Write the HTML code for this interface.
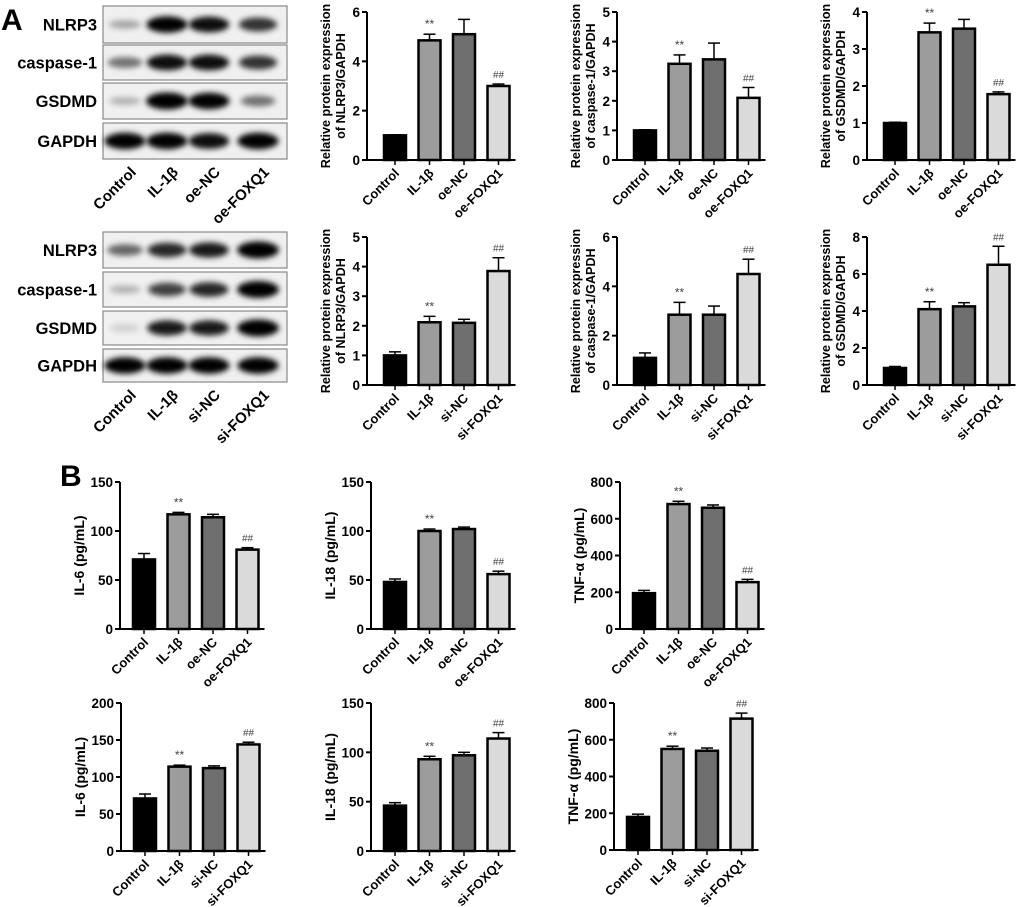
<!DOCTYPE html>
<html><head><meta charset="utf-8">
<style>
body{margin:0;background:#fff;}
svg{display:block;font-family:"Liberation Sans",Arial,sans-serif;}
.b{font-weight:bold;}
</style></head>
<body>
<svg id="fig" width="1020" height="907" viewBox="0 0 1020 907" xmlns="http://www.w3.org/2000/svg">
<defs><filter id="blur" x="-30%" y="-60%" width="160%" height="220%"><feGaussianBlur stdDeviation="3"/></filter></defs>
<text x="1" y="30" class="b" font-size="30">A</text>
<text x="60" y="486" class="b" font-size="30">B</text>
<g id="blots"></g>
<g id="charts"></g>
</svg>
<script>
// ---- chart data ----
const groupsOe = ["Control","IL-1β","oe-NC","oe-FOXQ1"];
const groupsSi = ["Control","IL-1β","si-NC","si-FOXQ1"];
const nlrp3OeVals = [1.0,4.85,5.1,3.0];   const nlrp3OeErr = [0.02,0.25,0.6,0.08];
const casp1OeVals = [1.0,3.25,3.4,2.1];   const casp1OeErr = [0.02,0.3,0.55,0.35];
const gsdmdOeVals = [1.0,3.45,3.55,1.78]; const gsdmdOeErr = [0.02,0.25,0.25,0.06];
const nlrp3SiVals = [1.0,2.12,2.1,3.85];  const nlrp3SiErr = [0.12,0.2,0.12,0.45];
const casp1SiVals = [1.1,2.85,2.85,4.5];  const casp1SiErr = [0.2,0.5,0.35,0.6];
const gsdmdSiVals = [0.92,4.1,4.25,6.5];  const gsdmdSiErr = [0.08,0.4,0.2,1.0];
const il6OeVals = [71,117,114,81];   const il6OeErr = [6,2,3,2];
const il18OeVals = [48,100,102,56];  const il18OeErr = [3,2,2,3];
const tnfOeVals = [195,680,660,255]; const tnfOeErr = [15,15,15,15];
const il6SiVals = [71,114,112,144];  const il6SiErr = [6,2,3,3];
const il18SiVals = [46,93,97,114];   const il18SiErr = [3,3,3,6];
const tnfSiVals = [180,550,540,715]; const tnfSiErr = [15,15,15,30];
const ticks6 = [0,2,4,6], ticks5 = [0,1,2,3,4,5], ticks4 = [0,1,2,3,4], ticks8 = [0,2,4,6,8];
const ticks150 = [0,50,100,150], ticks200 = [0,50,100,150,200], ticks800 = [0,200,400,600,800];
const marks = ["","**","","##"];
// band intensities per lane (0..1)
const blotOe = [[0.3,0.95,0.9,0.75],[0.5,0.9,0.9,0.75],[0.25,1,0.95,0.5],[0.95,0.95,0.9,0.95]];
const blotSi = [[0.55,0.8,0.85,1],[0.25,0.7,0.8,1],[0.15,0.85,0.85,1],[0.95,0.95,0.95,0.95]];
const blotNames = ["NLRP3","caspase-1","GSDMD","GAPDH"];

const NS="http://www.w3.org/2000/svg";
function mk(tag,attrs,parent,text){const e=document.createElementNS(NS,tag);for(const k in attrs)e.setAttribute(k,attrs[k]);if(text!==undefined)e.textContent=text;parent.appendChild(e);return e;}
const colors=["#000000","#9c9c9c","#6f6f6f","#dadada"];

function chart(ax,top,bot,ymax,ticks,vals,errs,cats,titleLines,off,name){
  const g=mk('g',{},document.getElementById('charts'));
  
  
  const y=v=>bot-(v/ymax)*(bot-top);
  const bw=22, sp=34.5;
  const cx=i=>ax+off+bw/2+i*sp;
  const xend=ax+off+3*sp+bw+6;
  vals.forEach((v,i)=>{
    const yt=y(v+errs[i]);
    const el=mk('line',{x1:cx(i),x2:cx(i),y1:y(v),y2:yt,stroke:'#000','stroke-width':1.5},g);
    
    
    const cap=mk('line',{x1:cx(i)-6,x2:cx(i)+6,y1:yt,y2:yt,stroke:'#000','stroke-width':1.5},g);
    
    
    const r=mk('rect',{x:cx(i)-bw/2,y:y(v),width:bw,height:bot-y(v),fill:colors[i],stroke:'#000','stroke-width':2.5},g);
    
    
    if(marks[i]){
      const t=mk('text',{x:cx(i),y:yt-6,'text-anchor':'middle','font-size':marks[i]=='##'?10:12,fill:'#444'},g,marks[i]);
      
      
    }
    const tk=mk('line',{x1:cx(i),x2:cx(i),y1:bot,y2:bot+5,stroke:'#000','stroke-width':1.5},g);
    
    
    const lb=mk('text',{x:cx(i)+5,y:bot+14,'text-anchor':'end','font-size':13,'font-weight':'bold',transform:`rotate(-45 ${cx(i)+5} ${bot+14})`},g,cats[i]);
    
    
  });
  const xa=mk('line',{x1:ax,x2:xend,y1:bot,y2:bot,stroke:'#000','stroke-width':2},g);
  
  
  const ya=mk('line',{x1:ax,x2:ax,y1:top,y2:bot+1,stroke:'#000','stroke-width':2},g);
  
  
  ticks.forEach(t=>{
    const l=mk('line',{x1:ax-5,x2:ax,y1:y(t),y2:y(t),stroke:'#000','stroke-width':2},g);
    
    
    const tx=mk('text',{x:ax-7,y:y(t)+5,'text-anchor':'end','font-size':13.5,'font-weight':'bold'},g,String(t));
    
    
  });
  const cy=(top+bot)/2;
  titleLines.forEach((s,k)=>{
    const xx=ax-(titleLines.length==2?(k==0?37:22):36);
    const t=mk('text',{x:xx,y:cy,'text-anchor':'middle','font-size':titleLines.length==2?12.6:14,'font-weight':'bold',transform:`rotate(-90 ${xx} ${cy})`},g,s);
    
    
  });
}

function blot(rows,intens,cats,name){
  const g=mk('g',{},document.getElementById('blots'));
  
  
  const lanes=[125,167,209,258];
  rows.forEach((r,ri)=>{
    const box=mk('rect',{x:103,y:r[0],width:184,height:r[1]-r[0],fill:'#f0f0f0',stroke:'#888','stroke-width':1.2},g);
    
    
    const cyy=(r[0]+r[1])/2;
    lanes.forEach((lx,li)=>{
      const v=intens[ri][li];
      const e=mk('ellipse',{cx:lx,cy:cyy,rx:14+v*7,ry:2.5+v*6,fill:'#000','fill-opacity':Math.min(1,v*1.05),filter:'url(#blur)'},g);
      
      
    });
    const t=mk('text',{x:97,y:cyy+6,'text-anchor':'end','font-size':16.5,'font-weight':'bold'},g,blotNames[ri]);
    
    
  });
  const by=rows[3][1];
  lanes.forEach((lx,li)=>{
    const t=mk('text',{x:lx+12,y:by+14,'text-anchor':'end','font-size':15,'font-weight':'bold',transform:`rotate(-45 ${lx+12} ${by+14})`},g,cats[li]);
    
    
  });
}
blot([[6,43],[45,80],[83,119],[123,159]],blotOe,groupsOe,'western-blot-oe');
blot([[232,268],[272,307],[311,345],[349,382]],blotSi,groupsSi,'western-blot-si');

chart(367,12,160,6,ticks6,nlrp3OeVals,nlrp3OeErr,groupsOe,["Relative protein expression","of NLRP3/GAPDH"],17,'chart-nlrp3-oe');
chart(617,12,160,5,ticks5,casp1OeVals,casp1OeErr,groupsOe,["Relative protein expression","of caspase-1/GAPDH"],17,'chart-caspase1-oe');
chart(867,12,160,4,ticks4,gsdmdOeVals,gsdmdOeErr,groupsOe,["Relative protein expression","of GSDMD/GAPDH"],17,'chart-gsdmd-oe');
chart(367,237,385,5,ticks5,nlrp3SiVals,nlrp3SiErr,groupsSi,["Relative protein expression","of NLRP3/GAPDH"],17,'chart-nlrp3-si');
chart(617,237,385,6,ticks6,casp1SiVals,casp1SiErr,groupsSi,["Relative protein expression","of caspase-1/GAPDH"],17,'chart-caspase1-si');
chart(867,237,385,8,ticks8,gsdmdSiVals,gsdmdSiErr,groupsSi,["Relative protein expression","of GSDMD/GAPDH"],17,'chart-gsdmd-si');
chart(120,482,629,150,ticks150,il6OeVals,il6OeErr,groupsOe,["IL-6 (pg/mL)"],13,'chart-il6-oe');
chart(371,482,629,150,ticks150,il18OeVals,il18OeErr,groupsOe,["IL-18 (pg/mL)"],13,'chart-il18-oe');
chart(620,482,629,800,ticks800,tnfOeVals,tnfOeErr,groupsOe,["TNF-α (pg/mL)"],13,'chart-tnf-oe');
chart(121,703,851,200,ticks200,il6SiVals,il6SiErr,groupsSi,["IL-6 (pg/mL)"],13,'chart-il6-si');
chart(371,703,851,150,ticks150,il18SiVals,il18SiErr,groupsSi,["IL-18 (pg/mL)"],13,'chart-il18-si');
chart(614,703,850,800,ticks800,tnfSiVals,tnfSiErr,groupsSi,["TNF-α (pg/mL)"],13,'chart-tnf-si');
</script>
</body></html>
